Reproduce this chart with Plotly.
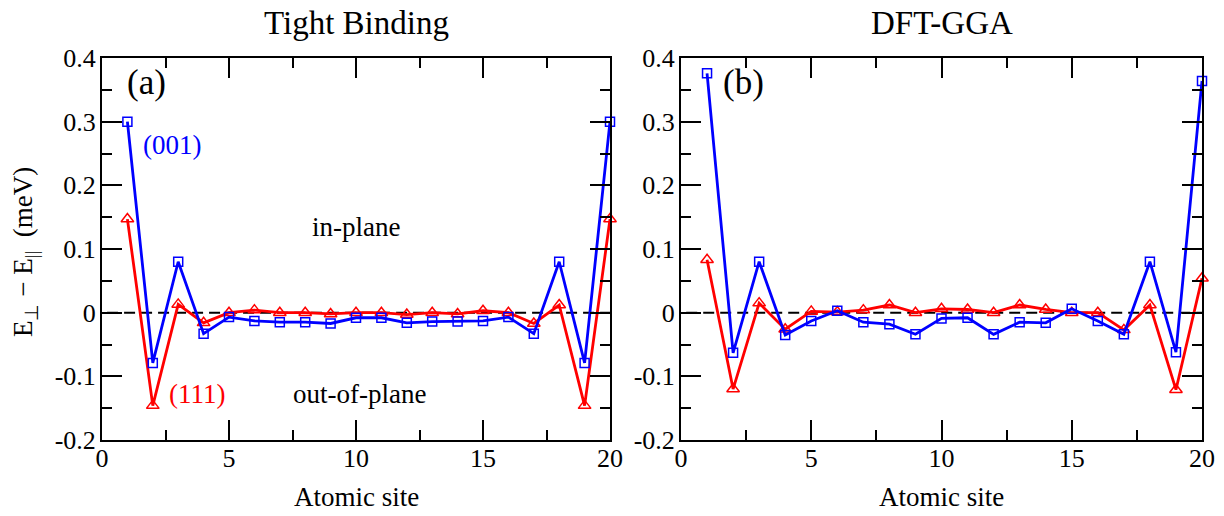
import plotly.graph_objects as go

sites = list(range(1, 21))

tb_001 = [0.300, -0.079, 0.080, -0.033, -0.007, -0.013, -0.015, -0.015, -0.017, -0.008,
          -0.008, -0.016, -0.014, -0.014, -0.013, -0.007, -0.033, 0.080, -0.079, 0.300]
tb_111 = [0.147, -0.146, 0.013, -0.016, 0.000, 0.004, 0.000, 0.000, -0.002, 0.000,
          0.000, -0.003, 0.000, -0.002, 0.003, 0.000, -0.017, 0.012, -0.146, 0.147]
dft_001 = [0.376, -0.063, 0.080, -0.035, -0.013, 0.003, -0.015, -0.018, -0.034, -0.009,
           -0.008, -0.034, -0.015, -0.016, 0.006, -0.013, -0.034, 0.080, -0.062, 0.364]
dft_111 = [0.083, -0.120, 0.015, -0.026, 0.002, 0.001, 0.004, 0.012, 0.000, 0.006,
           0.005, 0.000, 0.012, 0.005, 0.000, 0.000, -0.027, 0.012, -0.121, 0.054]

x_ticks = [0, 5, 10, 15, 20]
x_tick_text = ["0", "5", "10", "15", "20"]
y_ticks = [-0.2, -0.1, 0, 0.1, 0.2, 0.3, 0.4]
y_tick_text = ["-0.2", "-0.1", "0", "0.1", "0.2", "0.3", "0.4"]

titles = ["Tight Binding", "DFT-GGA"]

FONT = "Liberation Serif"
BLUE = "#0000ff"
RED = "#ff0000"

W, H = 1224, 516
OFF = 8  # page offset of the plot div
# desired on-screen box edges
L1, R1, L2, R2, TOP, BOT = 102, 610, 681, 1202, 58, 440
ML = L1 - OFF
MT = TOP - OFF
MR = W - (R2 - OFF)
MB = H - (BOT - OFF)
PW = W - ML - MR
PH = H - MT - MB


def px(xs):
    return (xs - OFF - ML) / PW


def py(ys):
    return (H - MB - (ys - OFF)) / PH


fig = go.Figure()

for i, (s001, s111) in enumerate([(tb_001, tb_111), (dft_001, dft_111)]):
    xa = "x" if i == 0 else "x2"
    ya = "y" if i == 0 else "y2"
    fig.add_trace(go.Scatter(
        x=sites, y=s111, mode="lines+markers", xaxis=xa, yaxis=ya,
        line=dict(color=RED, width=2.8),
        marker=dict(symbol="triangle-up-open", size=11, color=RED, line=dict(width=1.5, color=RED)),
        showlegend=False, cliponaxis=False))
    fig.add_trace(go.Scatter(
        x=sites, y=s001, mode="lines+markers", xaxis=xa, yaxis=ya,
        line=dict(color=BLUE, width=2.8),
        marker=dict(symbol="square-open", size=9, color=BLUE, line=dict(width=1.5, color=BLUE)),
        showlegend=False, cliponaxis=False))

ax_common = dict(
    showline=True, linecolor="black", linewidth=2, mirror="ticks",
    ticks="inside", ticklen=20, tickwidth=1.5, tickcolor="black",
    showgrid=False, zeroline=False, automargin=False,
    tickfont=dict(family=FONT, size=26, color="black"),
)

xdom = [[0, px(R1)], [px(L2), 1]]

for i in range(2):
    sx = "" if i == 0 else "2"
    fig.update_layout(**{
        "xaxis" + sx: dict(
            ax_common, domain=xdom[i], range=[0, 20], anchor="y" + sx,
            tickvals=x_ticks, ticktext=x_tick_text, ticklabelstandoff=-6,
            minor=dict(dtick=2.5, tick0=0, ticks="inside", ticklen=10, tickwidth=1.5, tickcolor="black"),
        ),
        "yaxis" + sx: dict(
            ax_common, domain=[0, 1], range=[-0.2, 0.4], anchor="x" + sx,
            tickvals=y_ticks, ticktext=y_tick_text, ticklabelstandoff=-1,
            minor=dict(dtick=0.05, tick0=0, ticks="inside", ticklen=10, tickwidth=1.5, tickcolor="black"),
        ),
    })
    fig.add_shape(type="line", xref="x" + sx, yref="y" + sx, x0=0.2, x1=20, y0=0, y1=0,
                  line=dict(color="black", width=2, dash="11px,6px"), layer="below")

annots = []
centers = [(xdom[0][0] + xdom[0][1]) / 2, (xdom[1][0] + xdom[1][1]) / 2]
for i in range(2):
    annots.append(dict(text=titles[i], x=centers[i], y=py(23), xref="paper", yref="paper",
                       font=dict(family=FONT, size=33, color="black")))
    annots.append(dict(text="Atomic site", x=centers[i], y=py(497), xref="paper", yref="paper",
                       font=dict(family=FONT, size=27, color="black")))

annots += [
    dict(text="(a)", x=1.75, y=0.362, xref="x", yref="y",
         font=dict(family=FONT, size=35, color="black")),
    dict(text="(b)", x=2.4, y=0.362, xref="x2", yref="y2",
         font=dict(family=FONT, size=35, color="black")),
    dict(text="(001)", x=2.76, y=0.263, xref="x", yref="y",
         font=dict(family=FONT, size=27, color=BLUE)),
    dict(text="(111)", x=3.74, y=-0.127, xref="x", yref="y",
         font=dict(family=FONT, size=27, color=RED)),
    dict(text="in-plane", x=10.0, y=0.134, xref="x", yref="y",
         font=dict(family=FONT, size=27, color="black")),
    dict(text="out-of-plane", x=10.15, y=-0.127, xref="x", yref="y",
         font=dict(family=FONT, size=27, color="black")),
    dict(text="E<sub>⊥</sub> − E<sub>||</sub>  (meV)", x=px(25), y=py(252),
         xref="paper", yref="paper", textangle=-90,
         font=dict(family=FONT, size=27, color="black")),
]
for a in annots:
    a.update(showarrow=False, xanchor="center", yanchor="middle", borderpad=0)

fig.update_layout(
    width=W, height=H,
    margin=dict(l=ML, r=MR, t=MT, b=MB, autoexpand=False),
    paper_bgcolor="white", plot_bgcolor="white",
    font=dict(family=FONT, color="black"),
    annotations=annots,
)

fig.write_html("out.html")
